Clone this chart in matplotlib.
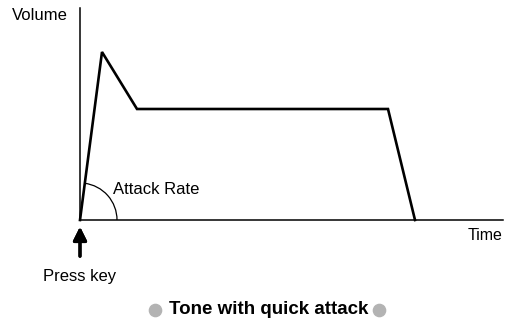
import numpy as np
import matplotlib.pyplot as plt
from matplotlib.patches import Arc

plt.rcParams['font.family'] = ['Liberation Sans', 'DejaVu Sans']

# envelope points (time, volume), arbitrary units
time = [0, 22, 57, 308, 335]
volume = [0, 168, 111, 111, 0]

W, H = 513, 320
fig = plt.figure(figsize=(5.13, 3.2), dpi=100)
ax = fig.add_axes([80 / W, 100 / H, 423 / W, 212 / H])
ax.set_xlim(0, 423)
ax.set_ylim(0, 212)
for s in ['top', 'right']:
    ax.spines[s].set_visible(False)
for s in ['left', 'bottom']:
    ax.spines[s].set_linewidth(1.1)
ax.set_xticks([])
ax.set_yticks([])
ax.patch.set_alpha(0)

ax.plot(time, volume, color='black', lw=1.9, solid_joinstyle='miter', clip_on=False)

# attack angle arc
ax.add_patch(Arc((0, 0), 74, 74, theta1=0, theta2=83, color='black', lw=0.9))
ax.text(33, 30, 'Attack Rate', fontsize=12, va='center', ha='left')

fig.text(12 / W, 1 - 16 / H, 'Volume', fontsize=12, va='center', ha='left')
fig.text(503 / W, 1 - 236 / H, 'Time', fontsize=11.5, va='center', ha='right')

# press key arrow
fig.add_artist(plt.annotate('', xy=(80 / W, 1 - 224 / H), xytext=(80 / W, 1 - 259 / H),
                            xycoords='figure fraction', textcoords='figure fraction',
                            arrowprops=dict(arrowstyle='-|>,head_length=0.8,head_width=0.4',
                                            color='black', lw=2.3)))
fig.text(80 / W, 1 - 276 / H, 'Press key', fontsize=12, va='center', ha='center')

# caption
fig.text(268.5 / W, 1 - 309 / H, 'Tone with quick attack', fontsize=13.5,
         fontweight='bold', va='center', ha='center')
fig.add_artist(plt.Line2D([155 / W, 379 / W], [1 - 310 / H, 1 - 310 / H], ls='none',
                          marker='o', ms=8.8, color='#b3b3b3', transform=fig.transFigure))

plt.savefig('out.png', dpi=100)
